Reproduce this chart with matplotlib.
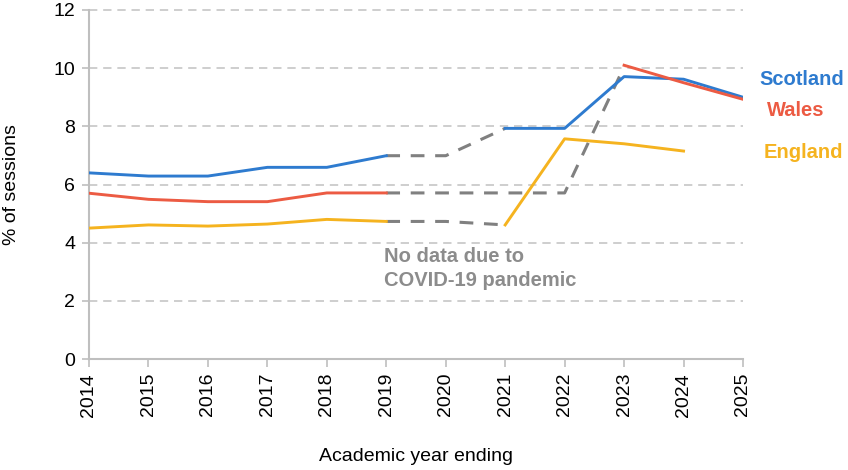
import numpy as np
import matplotlib
matplotlib.use("Agg")
import matplotlib.pyplot as plt

plt.rcParams['font.family'] = ['Liberation Sans', 'DejaVu Sans']

years = [2014, 2015, 2016, 2017, 2018, 2019, 2020, 2021, 2022, 2023, 2024, 2025]
nan = np.nan
scotland = [6.40, 6.29, 6.29, 6.59, 6.59, 6.99, nan, 7.93, 7.93, 9.71, 9.62, 9.00]
wales = [5.70, 5.49, 5.41, 5.41, 5.71, 5.71, nan, nan, nan, 10.10, 9.50, 8.93]
england = [4.50, 4.61, 4.57, 4.64, 4.80, 4.73, nan, 4.61, 7.57, 7.40, 7.15, nan]

# Gray dashed bridges over the COVID-19 gap
scotland_gap = [nan, nan, nan, nan, nan, 6.99, 6.99, 7.93, nan, nan, nan, nan]
wales_gap = [nan, nan, nan, nan, nan, 5.71, 5.71, 5.71, 5.71, 10.05, nan, nan]
england_gap = [nan, nan, nan, nan, nan, 4.73, 4.73, 4.61, nan, nan, nan, nan]

series_names = ["Scotland", "Wales", "England"]
colors = {"Scotland": "#2E7BCF", "Wales": "#EC5B43", "England": "#F5B31F"}
gap_color = "#808080"

fig = plt.figure(figsize=(8.48, 4.70), dpi=100)
ax = fig.add_axes([89/848, 1-359/470, (743-89)/848, (359-10)/470])

lw = 2.1
for g in (scotland_gap, wales_gap, england_gap):
    ax.plot(years, g, color=gap_color, lw=2.2, dashes=(4.5, 3.5), zorder=2)

ax.plot(years, scotland, color=colors["Scotland"], lw=lw, zorder=3)
ax.plot(years, wales, color=colors["Wales"], lw=lw, zorder=4)
ax.plot(years, england, color=colors["England"], lw=lw, zorder=3)

ax.set_xlim(2014, 2025)
ax.set_ylim(0, 12)
ax.set_xticks(years)
ax.set_xticklabels([str(y) for y in years], rotation=90, fontsize=14)
ax.set_yticks([0, 2, 4, 6, 8, 10, 12])
ax.tick_params(axis='y', labelsize=14, length=5, color="#BFBFBF", width=1.2, pad=5)
ax.tick_params(axis='x', length=6, color="#BFBFBF", width=1.2, pad=4)

for y in [2, 4, 6, 8, 10, 12]:
    ax.axhline(y, color="#C6C6C6", lw=1.2, dashes=(5, 3.5), zorder=1, clip_on=False)

for s in ["top", "right"]:
    ax.spines[s].set_visible(False)
for s in ["left", "bottom"]:
    ax.spines[s].set_color("#BFBFBF")
    ax.spines[s].set_linewidth(1.5)

ax.set_ylabel("% of sessions", fontsize=14, va='center')
ax.yaxis.set_label_coords(-0.118, 0.5)
ax.set_xlabel("Academic year ending", fontsize=14, labelpad=23)

ax.text(2025.28, 9.6, "Scotland", color=colors["Scotland"], fontsize=14.5, fontweight='bold',
        ha='left', va='center', clip_on=False)
ax.text(2025.4, 8.55, "Wales", color=colors["Wales"], fontsize=14.5, fontweight='bold',
        ha='left', va='center', clip_on=False)
ax.text(2025.35, 7.1, "England", color=colors["England"], fontsize=14.5, fontweight='bold',
        ha='left', va='center', clip_on=False)

ax.text(2018.96, 3.12, "No data due to\nCOVID-19 pandemic", color="#8C8C8C", fontsize=14.5,
        fontweight='bold', ha='left', va='center', linespacing=1.35)

fig.savefig("out.png", dpi=100)
